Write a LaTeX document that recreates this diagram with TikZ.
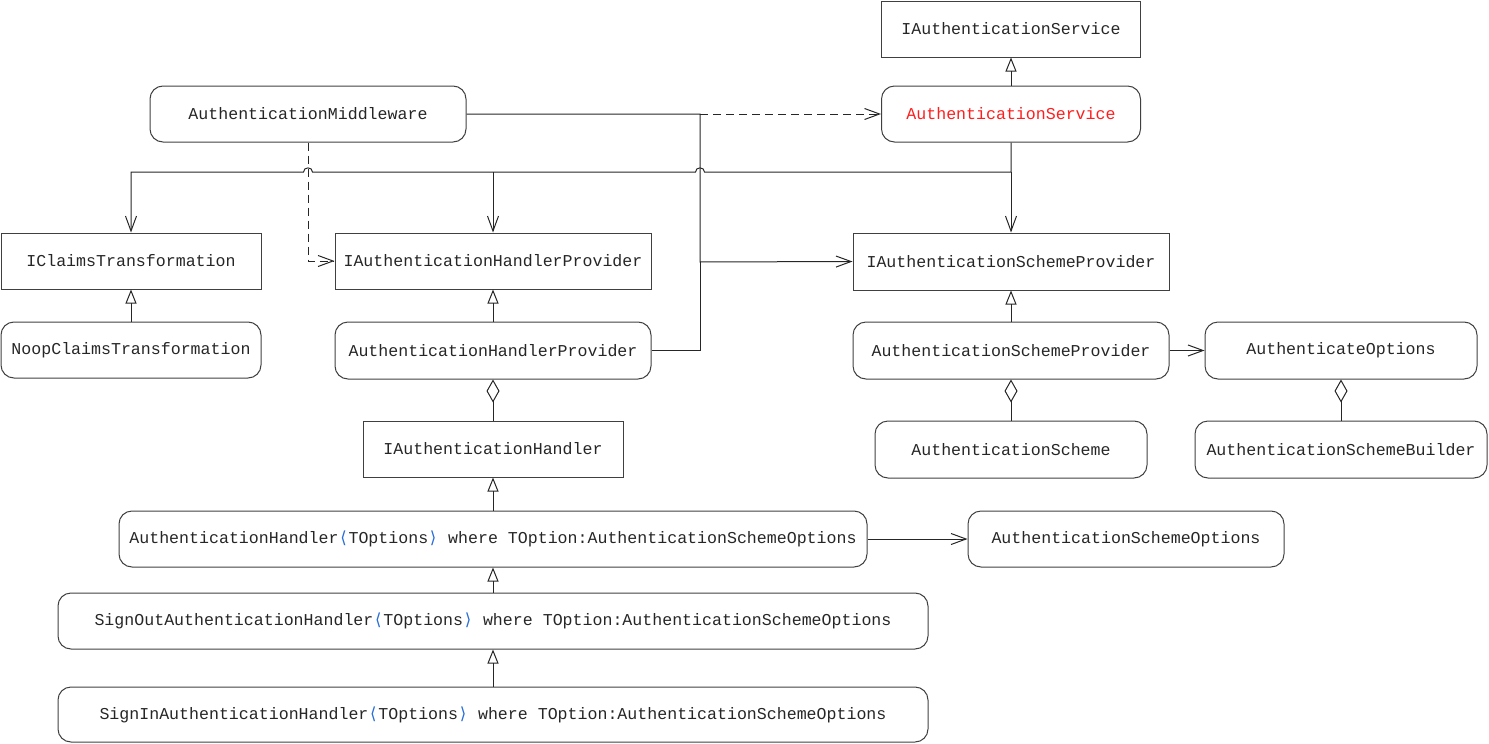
\documentclass[tikz,border=0pt]{standalone}
\usepackage{fontspec}
\setmainfont{Liberation Mono}
\newfontfamily\brfont{DejaVu Sans}
\usetikzlibrary{arrows.meta}
\definecolor{svcred}{RGB}{255,30,30}
\definecolor{brblue}{RGB}{40,110,215}
\newcommand{\lbr}{\makebox[0.6em]{\brfont\color{brblue}⟨}}
\newcommand{\rbr}{\makebox[0.6em]{\brfont\color{brblue}⟩}}
\tikzset{
  cls/.style={draw=black!75,line width=1pt,inner sep=0pt,minimum height=56pt},
  impl/.style={cls,rounded corners=13pt},
  inh/.style={-{Triangle[open,length=14pt,width=11pt]}},
  agg/.style={-{Diamond[open,length=23pt,width=13pt]}},
  assoc/.style={-{Straight Barb[length=15pt,width=11pt]}},
  dep/.style={assoc,dash pattern=on 8pt off 5pt}
}
\begin{document}
\begin{tikzpicture}[x=1pt,y=-1pt,font=\fontsize{16.6}{20}\selectfont,line width=1pt,black!85]
    \useasboundingbox (0,0) rectangle (1489,744);

    % interfaces
    \node [cls,minimum width=259pt] (ias) at (1011,29) {IAuthenticationService};
    \node [cls,minimum width=260pt] (ict) at (131,261) {IClaimsTransformation};
    \node [cls,minimum width=316pt] (iahp) at (493,261) {IAuthenticationHandlerProvider};
    \node [cls,minimum width=316pt,minimum height=57pt] (iasp) at (1011,261.5) {IAuthenticationSchemeProvider};
    \node [cls,minimum width=260pt] (iah) at (493,449) {IAuthenticationHandler};

    % classes
    \node [impl,minimum width=259pt,text=svcred] (as) at (1011,114) {AuthenticationService};
    \node [impl,minimum width=316pt] (mw) at (308,114) {AuthenticationMiddleware};
    \node [impl,minimum width=260pt] (nct) at (131,350) {NoopClaimsTransformation};
    \node [impl,minimum width=316pt,minimum height=57pt] (ahp) at (493,350.5) {AuthenticationHandlerProvider};
    \node [impl,minimum width=748pt] (ah) at (493,539) {AuthenticationHandler\lbr TOptions\rbr{} where TOption:AuthenticationSchemeOptions};
    \node [impl,minimum width=870pt] (soah) at (493,621) {SignOutAuthenticationHandler\lbr TOptions\rbr{} where TOption:AuthenticationSchemeOptions};
    \node [impl,minimum width=870pt,minimum height=55pt] (siah) at (493,714.5) {SignInAuthenticationHandler\lbr TOptions\rbr{} where TOption:AuthenticationSchemeOptions};
    \node [impl,minimum width=316pt,minimum height=57pt] (asp) at (1011,350.5) {AuthenticationSchemeProvider};
    \node [impl,minimum width=272pt,minimum height=57pt] (ao) at (1341,350.5) {AuthenticateOptions};
    \node [impl,minimum width=272pt,minimum height=57pt] (asch) at (1011,449.5) {AuthenticationScheme};
    \node [impl,minimum width=292pt,minimum height=57pt] (asb) at (1341,449.5) {AuthenticationSchemeBuilder};
    \node [impl,minimum width=316pt] (aso) at (1126,539) {AuthenticationSchemeOptions};

    % inheritance and aggregation
    \foreach \a/\b in {as/ias,nct/ict,ahp/iahp,ah/iah,soah/ah,siah/soah,asp/iasp}
        \draw [inh] (\a) -- (\b);
    \foreach \a/\b in {iah/ahp,asch/asp,asb/ao}
        \draw [agg] (\a) -- (\b);

    % associations
    \coordinate (ja) at (1011,172);
    \coordinate (jb) at (493,172);
    \coordinate (mc) at (700,114);
    \coordinate (bus) at (700,262);
    \draw [assoc] (as.south) -- (ja) -- (704.5,172) .. controls (704.5,166.5) and (695.5,166.5) .. (695.5,172)
        -- (312.5,172) .. controls (312.5,166.5) and (303.5,166.5) .. (303.5,172) -| (ict.north);
    \draw [assoc] (jb) -- (iahp.north);
    \draw [assoc] (ja) -- (iasp.north);
    \draw [assoc] (mw.east) -| (bus) -- (iasp.west);
    \draw (ahp.east) -| (bus);
    \draw [dep] (mc) -- (as.west);
    \draw [dep] (mw.south) |- (iahp.west);
    \draw [assoc] (ah.east) -- (aso.west);
    \draw [assoc] (asp.east) -- (ao.west);
\end{tikzpicture}
\end{document}
